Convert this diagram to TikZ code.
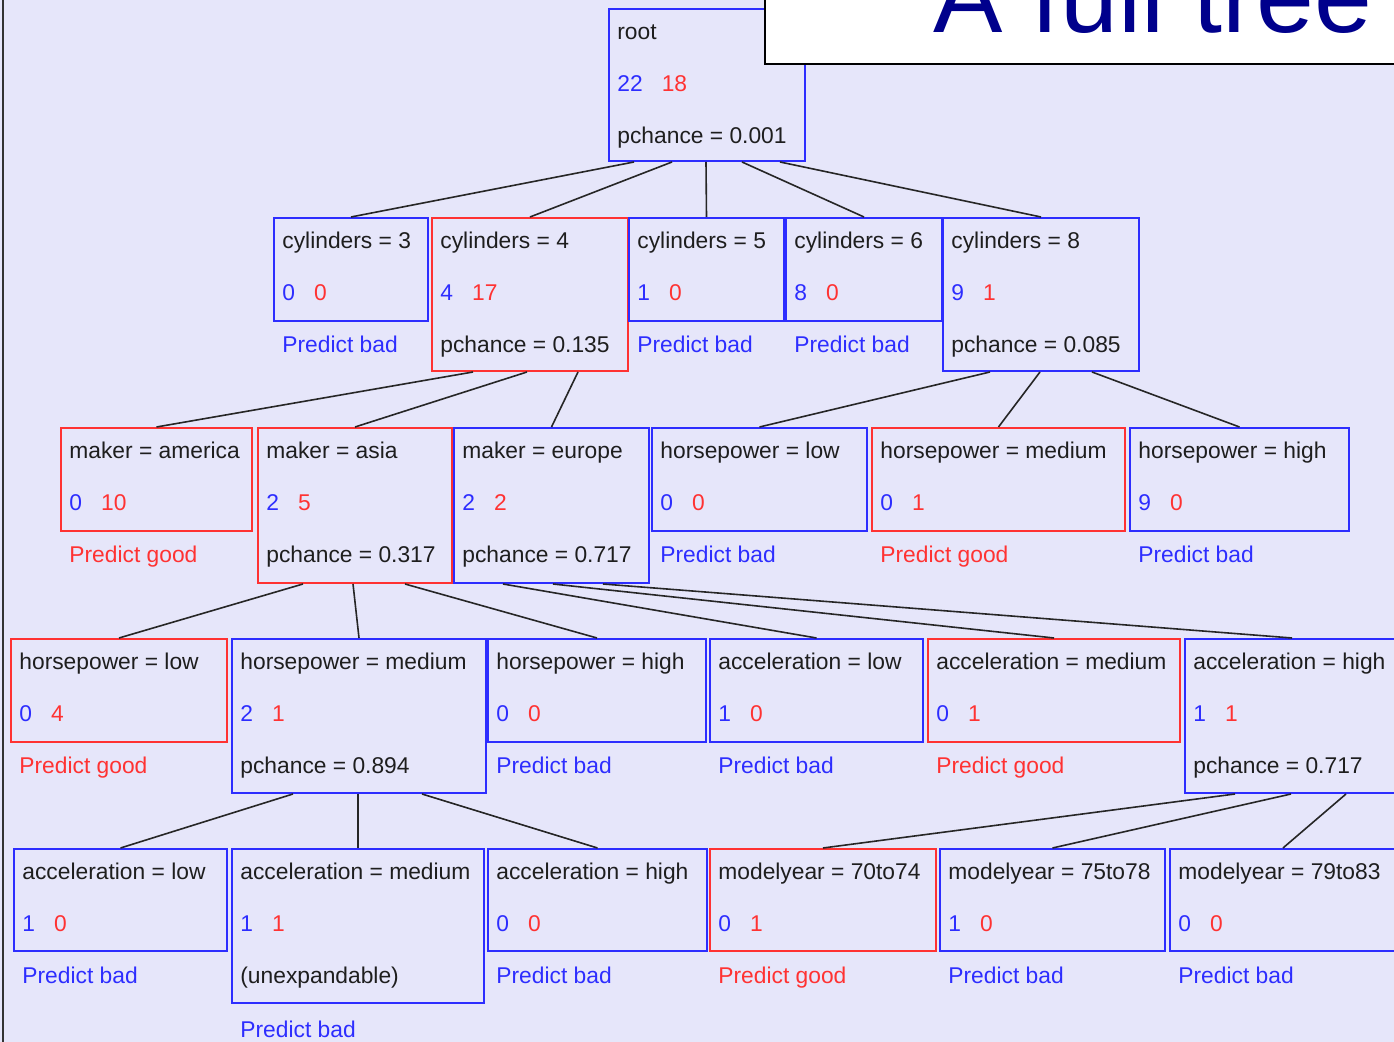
\documentclass[tikz,border=0pt]{standalone}
\usepackage{fontspec}
\setmainfont{Liberation Sans}
\usetikzlibrary{calc}

\definecolor{fondo}{RGB}{230,230,250}
\definecolor{azul}{RGB}{45,45,255}
\definecolor{rojo}{RGB}{255,50,50}
\definecolor{marino}{RGB}{0,0,140}
\definecolor{tinta}{RGB}{30,30,30}

\begin{document}
\begin{tikzpicture}[x=0.5pt, y=-0.5pt,
    caja/.style={line width=1pt, inner sep=0pt, anchor=north west},
    linea/.style={anchor=base west, inner sep=0pt, text=tinta,
      font=\fontsize{11.4}{14}\selectfont},
    rama/.style={line width=0.8pt, black!85}]

    % Marco y fondo
    \useasboundingbox (0,0) rectangle (1394,1042);
    \clip (0,0) rectangle (1394,1042);
    \fill[fondo] (0,0) rectangle (1394,1042);
    \draw[line width=1pt, black!80] (3,0) -- (3,1042);

    % Dibujar las cajas (nombre/x/y/ancho/alto/color)
    \foreach \n/\x/\y/\w/\h/\col in {
        root/608/8/196/152/azul,
        c3/273/217/154/103/azul, c4/431/217/196/153/rojo,
        c5/628/217/155/103/azul, c6/785/217/156/103/azul,
        c8/942/217/196/153/azul,
        mam/60/427/191/103/rojo, mas/257/427/194/155/rojo,
        meu/453/427/195/155/azul, hpl/651/427/215/103/azul,
        hpm/871/427/253/103/rojo, hph/1129/427/219/103/azul,
        hplb/10/638/216/103/rojo, hpmb/231/638/254/154/azul,
        hphb/487/638/218/103/azul, acl/709/638/213/103/azul,
        acm/927/638/252/103/rojo, ach/1184/638/214/154/azul,
        aclb/13/848/213/102/azul, acmb/231/848/252/154/azul,
        achb/487/848/219/102/azul, my1/709/848/226/102/rojo,
        my2/939/848/225/102/azul, my3/1169/848/226/102/azul}
      \node[caja, draw=\col, minimum width=\w*0.5pt, minimum height=\h*0.5pt]
        (\n) at (\x,\y) {};

    % Dibujar las ramas (padre/desplazamiento/hijo)
    \foreach \p/\dx/\h in {
        root/26/c3, root/64/c4, root/98/c5, root/134/c6, root/172/c8,
        c4/42/mam, c4/96/mas, c4/147/meu,
        c8/48/hpl, c8/98/hpm, c8/150/hph,
        mas/46/hplb, mas/96/hpmb, mas/148/hphb,
        meu/50/acl, meu/100/acm, meu/150/ach,
        hpmb/62/aclb, hpmb/127/acmb, hpmb/191/achb,
        ach/51/my1, ach/107/my2, ach/162/my3}
      \draw[rama] ($(\p.south west)+(\dx,0)$) -- (\h.north);

    % Primera y segunda linea de cada caja
    \foreach \n/\txt/\nb/\nr in {
        root/root/22/18,
        c3/{cylinders = 3}/0/0, c4/{cylinders = 4}/4/17,
        c5/{cylinders = 5}/1/0, c6/{cylinders = 6}/8/0,
        c8/{cylinders = 8}/9/1,
        mam/{maker = america}/0/10, mas/{maker = asia}/2/5,
        meu/{maker = europe}/2/2, hpl/{horsepower = low}/0/0,
        hpm/{horsepower = medium}/0/1, hph/{horsepower = high}/9/0,
        hplb/{horsepower = low}/0/4, hpmb/{horsepower = medium}/2/1,
        hphb/{horsepower = high}/0/0, acl/{acceleration = low}/1/0,
        acm/{acceleration = medium}/0/1, ach/{acceleration = high}/1/1,
        aclb/{acceleration = low}/1/0, acmb/{acceleration = medium}/1/1,
        achb/{acceleration = high}/0/0, my1/{modelyear = 70to74}/0/1,
        my2/{modelyear = 75to78}/1/0, my3/{modelyear = 79to83}/0/0}
    {
      \node[linea] (\n-a) at ($(\n.north west)+(9,32)$) {\txt};
      \node[linea] (\n-b) at ($(\n.north west)+(9,84)$)
        {\textcolor{azul}{\nb}\hspace{9.5pt}\textcolor{rojo}{\nr}};
    }

    % Tercera linea: pchance o prediccion
    \foreach \n/\txt/\col in {
        root/{pchance = 0.001}/tinta,
        c3/{Predict bad}/azul, c4/{pchance = 0.135}/tinta,
        c5/{Predict bad}/azul, c6/{Predict bad}/azul,
        c8/{pchance = 0.085}/tinta,
        mam/{Predict good}/rojo, mas/{pchance = 0.317}/tinta,
        meu/{pchance = 0.717}/tinta, hpl/{Predict bad}/azul,
        hpm/{Predict good}/rojo, hph/{Predict bad}/azul,
        hplb/{Predict good}/rojo, hpmb/{pchance = 0.894}/tinta,
        hphb/{Predict bad}/azul, acl/{Predict bad}/azul,
        acm/{Predict good}/rojo, ach/{pchance = 0.717}/tinta,
        aclb/{Predict bad}/azul, acmb/{(unexpandable)}/tinta,
        achb/{Predict bad}/azul, my1/{Predict good}/rojo,
        my2/{Predict bad}/azul, my3/{Predict bad}/azul}
      \node[linea, text=\col] (\n-c) at ($(\n.north west)+(9,136)$) {\txt};

    % Prediccion de la caja no expandible
    \node[linea, text=azul] (acmb-d) at ($(acmb.north west)+(9,189)$) {Predict bad};

    % Titulo, encima de la caja raiz
    \filldraw[fill=white, draw=black, line width=0.8pt] (765,64) rectangle (1420,-20);
    \node[anchor=base west, inner sep=0pt, text=marino,
      font=\fontsize{52}{60}\selectfont] (titulo) at (933,33) {A full tree};

\end{tikzpicture}
\end{document}
